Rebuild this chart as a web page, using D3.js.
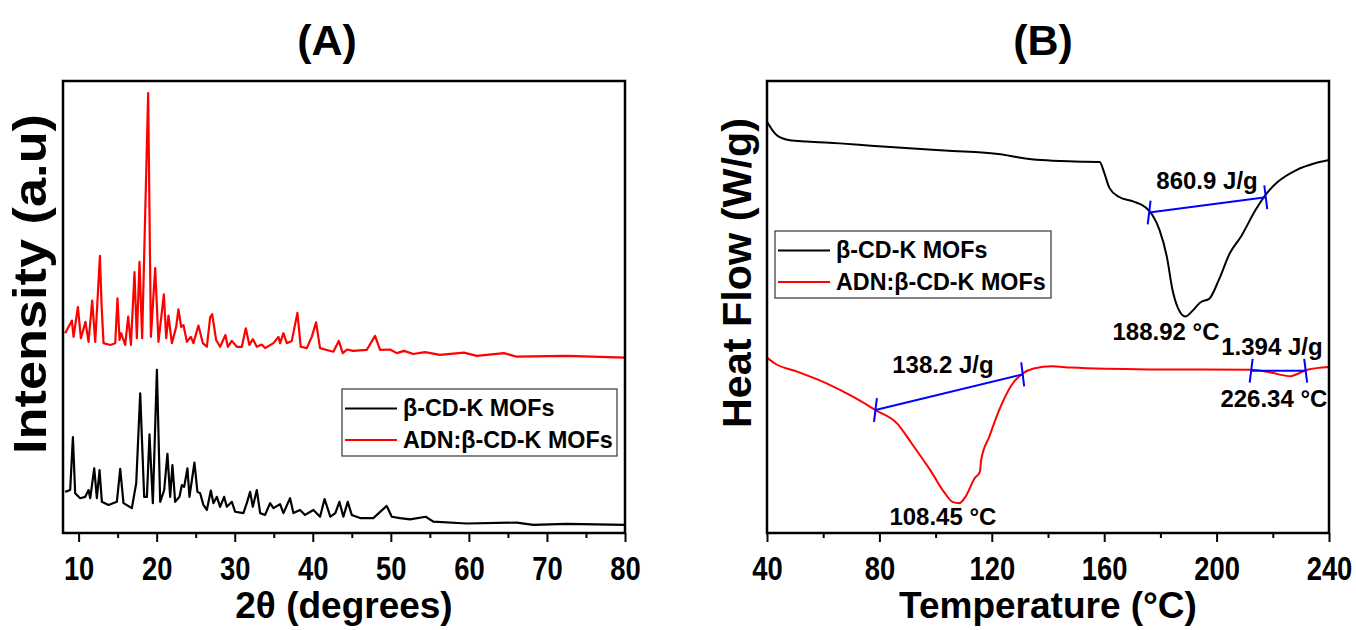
<!DOCTYPE html>
<html>
<head>
<meta charset="utf-8">
<script src="https://cdn.jsdelivr.net/npm/d3@7"></script>
<style>
  body { margin: 0; background: #fff; }
  text { font-family: "Liberation Sans", Arial, sans-serif; font-weight: bold; fill: #000; }
</style>
</head>
<body>
<svg id="chart" width="1356" height="630"></svg>
<script>
// ---------- XRD patterns: [2θ (deg), intensity (a.u.)] ----------
const xrdPure = [
  [8.28,9.1],[8.92,9.5],[9.27,21.2],[9.56,8.8],[10.20,7.7],[10.85,8.0],[11.27,9.5],[11.49,7.7],
  [12.00,14.3],[12.34,7.7],[12.68,13.9],[12.98,6.9],[13.83,6.2],[14.90,6.9],[15.33,14.2],[15.75,6.6],
  [16.82,5.5],[17.38,11.0],[17.89,30.9],[18.40,8.0],[18.75,8.0],[19.08,21.8],[19.51,6.6],[20.03,36.1],
  [20.45,6.9],[20.96,9.5],[21.38,17.5],[21.73,8.0],[22.02,15.0],[22.37,6.9],[22.92,8.0],[23.23,10.6],
  [23.52,10.2],[23.94,14.3],[24.20,8.0],[24.84,15.6],[25.22,9.1],[25.57,8.8],[25.99,6.2],[26.43,5.1],
  [26.94,9.4],[27.27,6.6],[27.71,8.0],[28.13,5.8],[28.64,8.0],[28.99,5.8],[29.63,6.9],[30.05,4.7],
  [31.11,4.4],[31.55,6.6],[31.97,9.1],[32.32,5.8],[32.83,9.5],[33.26,4.4],[33.89,4.0],[34.53,6.6],
  [34.96,5.5],[35.81,6.4],[36.24,4.4],[37.09,7.7],[37.52,4.4],[38.37,5.1],[39.01,4.0],[40.08,5.1],
  [40.93,3.6],[41.51,7.5],[42.25,3.6],[42.89,4.4],[43.41,6.9],[43.92,3.6],[44.48,6.9],[44.99,4.0],
  [46.06,3.3],[47.76,3.3],[49.47,6.0],[50.12,3.6],[51.18,3.3],[52.46,3.0],[54.47,3.6],[55.44,2.5],
  [59.72,2.1],[66.12,2.3],[68.25,1.8],[72.52,2.0],[80.00,1.8]
];
const xrdLoaded = [
  [8.28,44.2],[9.14,47.0],[9.35,43.4],[9.91,50.0],[10.29,43.1],[10.88,46.7],[11.27,42.3],[11.74,51.4],
  [12.13,42.3],[12.73,61.3],[12.93,50.9],[13.19,42.0],[14.05,41.6],[14.69,42.0],[14.98,51.9],[15.24,42.7],
  [15.45,44.2],[15.97,41.6],[16.35,47.9],[16.70,41.6],[17.16,57.7],[17.46,43.1],[17.80,60.0],[18.14,43.1],
  [18.91,97.3],[19.26,43.4],[19.81,58.6],[20.23,42.3],[20.92,52.8],[21.22,43.1],[21.51,48.1],[21.95,42.0],
  [22.50,45.6],[22.79,49.5],[23.14,45.6],[23.43,46.0],[23.87,42.3],[24.38,43.4],[24.71,42.0],[25.35,45.9],
  [25.92,42.0],[26.43,41.2],[26.85,47.7],[27.11,48.4],[27.62,42.7],[28.13,41.2],[28.81,43.8],[29.12,41.2],
  [29.63,42.5],[30.27,41.2],[30.91,41.2],[31.42,45.3],[31.88,41.6],[32.32,42.9],[32.83,41.2],[33.47,41.7],
  [33.89,40.9],[34.96,42.0],[35.60,43.4],[35.81,42.0],[36.24,44.2],[36.67,42.0],[37.31,42.5],[38.03,48.7],
  [38.46,41.2],[39.23,40.9],[39.87,43.4],[40.42,46.6],[40.93,40.9],[41.79,40.5],[42.64,40.1],[43.33,42.5],
  [43.84,39.8],[44.39,40.6],[45.16,40.3],[46.91,40.5],[47.98,43.6],[48.62,40.5],[49.90,40.6],[50.76,39.8],
  [51.69,40.3],[52.88,39.6],[54.38,40.0],[56.30,39.4],[59.37,39.9],[61.00,39.2],[64.49,39.8],[66.12,39.0],
  [72.52,39.2],[80.00,38.8]
];
const xrdTicks = [10, 20, 30, 40, 50, 60, 70, 80];
const xrdMinorTicks = [15, 25, 35, 45, 55, 65, 75];

// ---------- DSC curves: [temperature (°C), heat flow (a.u.)] ----------
const dscPure = [
  [40.0,91.0],[41.1,89.9],[42.3,88.8],[43.9,87.8],[48.1,86.9],[54.1,86.6],[65.9,86.2],[77.0,85.7],
  [103.3,84.6],[123.1,83.8],[129.7,83.1],[137.6,82.5],[149.4,82.2],[158.4,82.1],[159.9,79.9],[161.9,76.3],
  [165.2,74.4],[170.5,73.3],[174.4,72.2],[177.1,70.4],[179.7,67.0],[182.3,61.1],[184.3,53.8],[186.3,49.7],
  [188.92,47.9],[191.5,49.2],[194.2,51.0],[197.5,51.9],[200.8,56.0],[204.7,61.9],[208.7,65.6],[213.9,71.5],
  [217.9,75.2],[221.8,77.7],[228.4,80.3],[235.0,81.8],[240.0,82.5]
];
const dscLoaded = [
  [40.0,38.8],[42.8,37.5],[50.7,35.7],[61.2,33.1],[70.4,30.2],[78.6,27.2],[86.2,24.3],[91.5,19.8],
  [98.1,13.9],[103.3,8.8],[106.0,6.9],[108.45,6.6],[110.6,8.0],[113.9,12.1],[115.8,13.6],[116.2,16.1],
  [119.1,21.3],[123.1,27.9],[127.0,32.7],[131.0,35.3],[134.9,36.4],[141.5,36.9],[148.1,36.6],[175.8,36.2],
  [212.6,36.1],[219.2,35.5],[226.34,34.7],[229.1,35.3],[232.3,36.1],[240.0,36.7]
];
const dscTicks = [40, 80, 120, 160, 200, 240];
const dscMinorTicks = [60, 100, 140, 180, 220];

// Integration baselines of the endotherms: [[T1, y1], [T2, y2]]
const dscBaselines = [
  [[176.0, 70.9], [217.5, 74.3]],
  [[78.6, 27.2], [131.0, 35.1]],
  [[212.3, 35.9], [231.7, 35.9]]
];
// Enthalpies and peak temperatures, anchored at [T, y]
const dscNotes = [
  { text: "860.9 J/g", at: [196.6, 76.0] },
  { text: "188.92 °C", at: [182.0, 42.7] },
  { text: "138.2 J/g", at: [102.6, 35.4] },
  { text: "108.45 °C", at: [102.6, 1.8] },
  { text: "1.394 J/g", at: [219.7, 39.4] },
  { text: "226.34 °C", at: [220.4, 27.9] }
];

const seriesNames = ["β-CD-K MOFs", "ADN:β-CD-K MOFs"];
const seriesColors = ["#000000", "#ff0000"];

const svg = d3.select("#chart");

function bottomAxis(scale, box, major, minor) {
  const g = svg.append("g").attr("transform", `translate(0,${box.b})`);
  const gMinor = g.append("g").call(d3.axisBottom(scale).tickValues(minor).tickSize(5).tickFormat(""));
  const gMajor = g.append("g").call(d3.axisBottom(scale).tickValues(major).tickSize(9).tickFormat(d3.format("d")));
  [gMinor, gMajor].forEach(a => {
    a.select(".domain").remove();
    a.selectAll("line").attr("stroke", "#000").attr("stroke-width", 2);
  });
  gMajor.selectAll("text")
    .attr("y", 47).attr("dy", 0)
    .attr("font-size", 33)
    .attr("transform", "scale(0.83,1)");
}

function frame(box) {
  svg.append("rect")
    .attr("x", box.l).attr("y", box.t)
    .attr("width", box.r - box.l).attr("height", box.b - box.t)
    .attr("fill", "none").attr("stroke", "#000").attr("stroke-width", 2.5);
}

function legend(x, y, w, h) {
  const g = svg.append("g").attr("transform", `translate(${x},${y})`);
  g.append("rect").attr("width", w).attr("height", h)
    .attr("fill", "#fff").attr("stroke", "#444").attr("stroke-width", 1.3);
  seriesNames.forEach((name, i) => {
    const cy = 19.5 + i * 31.5;
    g.append("line").attr("x1", 3).attr("x2", 55).attr("y1", cy).attr("y2", cy)
      .attr("stroke", seriesColors[i]).attr("stroke-width", 2);
    g.append("text").attr("x", 61).attr("y", cy + 7.5).attr("font-size", 23.3).text(name);
  });
}

// ---------- Panel A: XRD ----------
const A = { l: 63, r: 625, t: 81, b: 533 };
const xA = d3.scaleLinear().domain([8, 80]).range([A.l, A.r]);
const yA = d3.scaleLinear().domain([0, 100]).range([A.b, A.t]);
const lineA = d3.line().x(d => xA(d[0])).y(d => yA(d[1]));

svg.append("path").datum(xrdLoaded).attr("d", lineA)
  .attr("fill", "none").attr("stroke", seriesColors[1]).attr("stroke-width", 2.2).attr("stroke-linejoin", "round");
svg.append("path").datum(xrdPure).attr("d", lineA)
  .attr("fill", "none").attr("stroke", seriesColors[0]).attr("stroke-width", 2.2).attr("stroke-linejoin", "round");

bottomAxis(xA, A, xrdTicks, xrdMinorTicks);
frame(A);
legend(342, 389, 275, 67);

svg.append("text").attr("x", 327).attr("y", 55).attr("text-anchor", "middle").attr("font-size", 43).text("(A)");
svg.append("text").attr("x", (A.l + A.r) / 2).attr("y", 618).attr("text-anchor", "middle")
  .attr("font-size", 37).text("2θ (degrees)");
svg.append("text").attr("transform", `translate(46,284) rotate(-90)`).attr("text-anchor", "middle")
  .attr("font-size", 46).attr("textLength", 340).attr("lengthAdjust", "spacingAndGlyphs")
  .text("Intensity (a.u)");

// ---------- Panel B: DSC ----------
const B = { l: 767, r: 1329, t: 81, b: 533 };
const xB = d3.scaleLinear().domain([40, 240]).range([B.l, B.r]);
const yB = d3.scaleLinear().domain([0, 100]).range([B.b, B.t]);
const lineB = d3.line().x(d => xB(d[0])).y(d => yB(d[1])).curve(d3.curveMonotoneX);

svg.append("path").datum(dscPure).attr("d", lineB)
  .attr("fill", "none").attr("stroke", seriesColors[0]).attr("stroke-width", 2);
svg.append("path").datum(dscLoaded).attr("d", lineB)
  .attr("fill", "none").attr("stroke", seriesColors[1]).attr("stroke-width", 2);

dscBaselines.forEach(seg => {
  const p = seg.map(d => [xB(d[0]), yB(d[1])]);
  svg.append("line").attr("x1", p[0][0]).attr("y1", p[0][1]).attr("x2", p[1][0]).attr("y2", p[1][1])
    .attr("stroke", "#0000ff").attr("stroke-width", 2);
  p.forEach((q, i) => {
    const tilt = i === 0 ? 7 : -7;
    svg.append("line")
      .attr("transform", `translate(${q[0]},${q[1]}) rotate(${tilt})`)
      .attr("x1", 0).attr("x2", 0).attr("y1", -12).attr("y2", 12)
      .attr("stroke", "#0000ff").attr("stroke-width", 2);
  });
});

dscNotes.forEach(n => {
  svg.append("text").attr("x", xB(n.at[0])).attr("y", yB(n.at[1]))
    .attr("text-anchor", "middle").attr("font-size", 24).text(n.text);
});

bottomAxis(xB, B, dscTicks, dscMinorTicks);
frame(B);
legend(775, 231, 276, 67);

svg.append("text").attr("x", 1043).attr("y", 55).attr("text-anchor", "middle").attr("font-size", 43).text("(B)");
svg.append("text").attr("x", (B.l + B.r) / 2).attr("y", 618).attr("text-anchor", "middle")
  .attr("font-size", 37).text("Temperature (°C)");
svg.append("text").attr("transform", `translate(751,273) rotate(-90)`).attr("text-anchor", "middle")
  .attr("font-size", 41).attr("textLength", 310).attr("lengthAdjust", "spacingAndGlyphs")
  .text("Heat Flow (W/g)");
</script>
</body>
</html>
